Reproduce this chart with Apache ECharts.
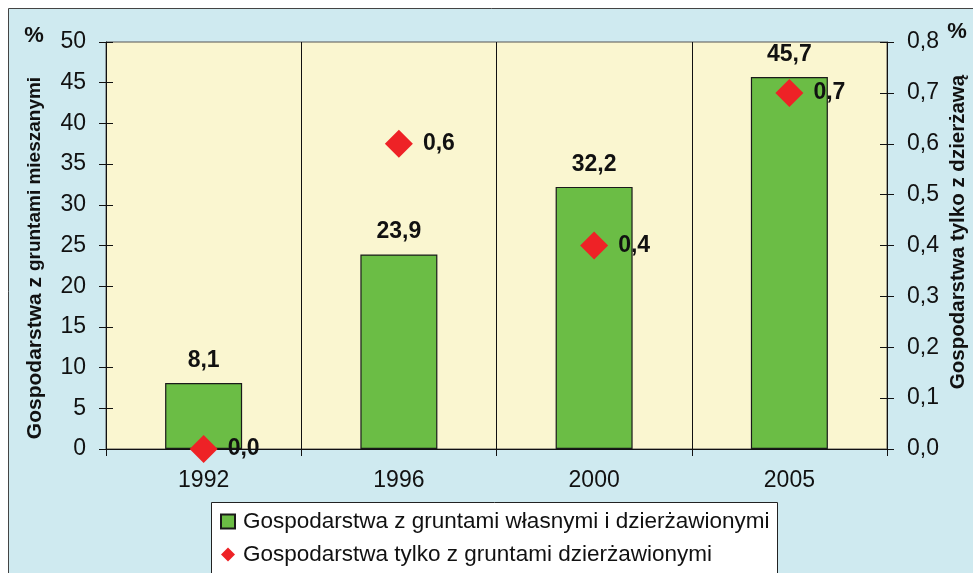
<!DOCTYPE html>
<html>
<head>
<meta charset="utf-8">
<script src="https://cdn.jsdelivr.net/npm/echarts@6/dist/echarts.min.js"></script>
<style>
  html, body { margin: 0; padding: 0; background: #fff; }
  #chart { width: 973px; height: 573px; }
</style>
</head>
<body>
<div id="chart"></div>
<script>
// dane
const years = ['1992', '1996', '2000', '2005'];
const mixedLand = [8.1, 23.9, 32.2, 45.7];   // lewa oś, %
const leasedOnly = [0.0, 0.6, 0.4, 0.7];     // prawa oś, %
const seriesNames = [
  'Gospodarstwa z gruntami własnymi i dzierżawionymi',
  'Gospodarstwa tylko z gruntami dzierżawionymi'
];

const font = '"Liberation Sans", Arial, sans-serif';
const fmt = (v) => v.toFixed(1).replace('.', ',');

function init() {
  const chart = echarts.init(document.getElementById('chart'));

  const leftAxis = { min: 0, max: 50, interval: 5 };
  const rightAxis = { min: 0, max: 0.8, interval: 0.1 };

  const option = {
    animation: false,
    textStyle: { fontFamily: font },
    graphic: [
      {
        type: 'rect', z: -10, silent: true,
        shape: { x: 8.5, y: 8.5, width: 1000, height: 600 },
        style: { fill: '#cfeaf0', stroke: '#444', lineWidth: 1 }
      },
      // ramka legendy
      {
        type: 'rect', z: -5, silent: true,
        shape: { x: 211.5, y: 502.5, width: 566, height: 100 },
        style: { fill: '#fff', stroke: '#222', lineWidth: 1 }
      },
      {
        type: 'text', x: 34, y: 36,
        style: { text: '%', font: 'bold 22px ' + font, fill: '#111', align: 'center', verticalAlign: 'middle' }
      },
      {
        type: 'text', x: 957, y: 32,
        style: { text: '%', font: 'bold 22px ' + font, fill: '#111', align: 'center', verticalAlign: 'middle' }
      },
      {
        type: 'text', x: 35, y: 258, rotation: Math.PI / 2,
        style: {
          text: '{a|Gospodarstwa z }{b|gruntami mieszanymi}',
          align: 'center', verticalAlign: 'middle', fill: '#111',
          rich: {
            a: { font: 'bold 21px ' + font, fill: '#111' },
            b: { font: 'bold 19px ' + font, fill: '#111' }
          }
        }
      },
      {
        type: 'text', x: 958, y: 232, rotation: Math.PI / 2,
        style: {
          text: 'Gospodarstwa tylko z dzierżawą',
          font: 'bold 20.5px ' + font, fill: '#111',
          align: 'center', verticalAlign: 'middle'
        }
      }
    ],
    grid: {
      left: 106, right: 86, top: 42, bottom: 124,
      show: true, backgroundColor: '#faf6d0', borderColor: '#555', borderWidth: 1
    },
    legend: {
      orient: 'vertical',
      left: 220, top: 510,
      padding: 0,
      itemGap: 10,
      itemWidth: 14, itemHeight: 14,
      textStyle: { fontSize: 22.5, color: '#111', fontFamily: font, padding: [0, 0, 0, 3] },
      data: [
        { name: seriesNames[0], icon: 'rect' },
        { name: seriesNames[1], icon: 'diamond' }
      ]
    },
    xAxis: {
      type: 'category',
      data: years,
      axisLine: { lineStyle: { color: '#111' } },
      axisTick: { show: true, length: 7, lineStyle: { color: '#111' } },
      axisLabel: { fontSize: 23, color: '#111', margin: 20 },
      splitLine: { show: true, lineStyle: { color: '#111', width: 1 } }
    },
    yAxis: [
      Object.assign({
        type: 'value', position: 'left',
        axisLine: { show: true, lineStyle: { color: '#111' } },
        axisTick: { show: true, length: 7, lineStyle: { color: '#111' } },
        axisLabel: { fontSize: 23, color: '#111', margin: 20 },
        splitLine: { show: false }
      }, leftAxis),
      Object.assign({
        type: 'value', position: 'right',
        axisLine: { show: true, lineStyle: { color: '#111' } },
        axisTick: { show: true, length: 7, lineStyle: { color: '#111' } },
        axisLabel: { fontSize: 23, color: '#111', margin: 20, formatter: fmt },
        splitLine: { show: false }
      }, rightAxis),
      // kopie osi tylko po to, żeby kreski przecinały oś
      Object.assign({
        type: 'value', position: 'left',
        axisLine: { show: false },
        axisTick: { show: true, inside: true, length: 7, lineStyle: { color: '#111' } },
        axisLabel: { show: false },
        splitLine: { show: false }
      }, leftAxis),
      Object.assign({
        type: 'value', position: 'right',
        axisLine: { show: false },
        axisTick: { show: true, inside: true, length: 7, lineStyle: { color: '#111' } },
        axisLabel: { show: false },
        splitLine: { show: false }
      }, rightAxis)
    ],
    series: [
      {
        name: seriesNames[0],
        type: 'bar',
        yAxisIndex: 0,
        barWidth: 77,
        data: mixedLand,
        itemStyle: { color: '#6bbd45', borderColor: '#1a1a1a', borderWidth: 1.2 },
        label: {
          show: true, position: 'top', distance: 11,
          fontSize: 23, fontWeight: 'bold', color: '#111',
          formatter: (p) => fmt(p.value)
        },
        z: 2
      },
      {
        name: seriesNames[1],
        type: 'scatter',
        yAxisIndex: 1,
        symbol: 'diamond',
        symbolSize: [28, 28],
        data: leasedOnly,
        itemStyle: { color: '#ee2226', opacity: 1 },
        label: {
          show: true, position: 'right', distance: 10,
          fontSize: 23, fontWeight: 'bold', color: '#111',
          formatter: (p) => fmt(p.value)
        },
        z: 5
      }
    ]
  };

  chart.setOption(option);
}

window.onload = function () {
  init();
};
</script>
</body>
</html>
